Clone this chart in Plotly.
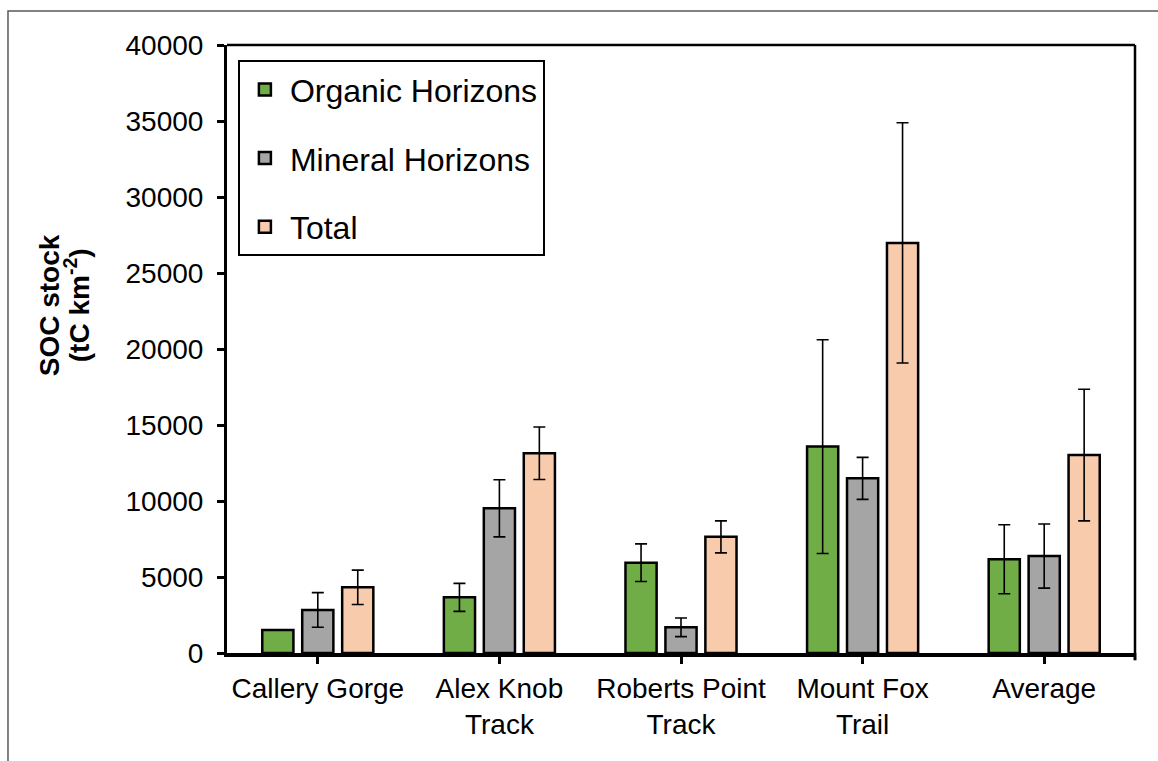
import plotly.graph_objects as go

# Sites and soil organic carbon stocks (tC km^-2)
sites = ["Callery Gorge", "Alex Knob<br>Track", "Roberts Point<br>Track", "Mount Fox<br>Trail", "Average"]

organic = [1510, 3660, 5940, 13580, 6170]
organic_err = [None, 920, 1240, 7030, 2270]

mineral = [2830, 9520, 1690, 11490, 6380]
mineral_err = [1140, 1880, 610, 1380, 2110]

total = [4320, 13140, 7640, 26980, 13020]
total_err = [1130, 1730, 1050, 7900, 4330]

series = [
    ("Organic Horizons", organic, organic_err, "#70AD47"),
    ("Mineral Horizons", mineral, mineral_err, "#A5A5A5"),
    ("Total", total, total_err, "#F8CBAD"),
]

FONT = "Arial, Liberation Sans, sans-serif"

fig = go.Figure()
for i, (name, vals, errs, color) in enumerate(series):
    fig.add_trace(go.Bar(
        name=name,
        x=sites,
        y=vals,
        legendgroup=f"g{i}",
        marker=dict(color=color, line=dict(color="black", width=2.5)),
        error_y=dict(type="data", array=errs, visible=True,
                     color="black", thickness=1.6, width=6),
    ))

fig.update_layout(
    width=1158,
    height=761,
    margin=dict(l=227, r=23, t=45, b=108),
    paper_bgcolor="white",
    plot_bgcolor="white",
    barmode="group",
    bargap=0.34,
    bargroupgap=0.22,
    font=dict(family=FONT, size=28, color="black"),
    showlegend=True,
    legend=dict(
        x=0.012, y=0.975, xanchor="left", yanchor="top",
        bgcolor="white", bordercolor="black", borderwidth=2,
        font=dict(size=32, family=FONT),
        tracegroupgap=24,
        traceorder="grouped",
        itemwidth=40,
    ),
    xaxis=dict(
        showline=True, linecolor="black", linewidth=4,
        ticks="outside", ticklen=7, tickwidth=3, tickcolor="black",
        showgrid=False, zeroline=False,
        tickfont=dict(size=28, family=FONT),
    ),
    yaxis=dict(
        range=[0, 40000], dtick=5000, tickformat="d",
        showline=True, linecolor="black", linewidth=3,
        ticks="outside", ticklen=7, tickwidth=3, tickcolor="black",
        showgrid=False, zeroline=False,
        tickfont=dict(size=28, family=FONT),
        ticklabelstandoff=8,
    ),
)

# Y-axis title: two rotated lines set close together
title_lines = [("<b>SOC stock</b>", -0.196), ("<b>(tC km<sup>-2</sup>)</b>", -0.1652)]
for text, xpos in title_lines:
    fig.add_annotation(
        text=text,
        xref="paper", yref="paper", x=xpos, y=0.572,
        xanchor="center", yanchor="middle", textangle=-90,
        showarrow=False,
        font=dict(size=28, family=FONT, color="black"),
    )

# Plot-area border on the top and right sides
fig.add_shape(type="line", xref="paper", yref="paper", x0=0, x1=1, y0=1, y1=1,
              line=dict(color="black", width=2.5))
fig.add_shape(type="line", xref="paper", yref="paper", x0=1, x1=1, y0=0, y1=1,
              line=dict(color="black", width=2.5))
# Closing tick at the right end of the category axis
fig.add_shape(type="line", xref="paper", yref="paper", x0=1, x1=1, y0=0, y1=-0.012,
              line=dict(color="black", width=3))

# Chart-area frame
fig.add_shape(type="rect", xref="paper", yref="paper",
              x0=-0.2412, x1=1.06, y0=-0.25, y1=1.0559,
              line=dict(color="#595959", width=1.5), layer="below")

fig.write_html("out.html")
